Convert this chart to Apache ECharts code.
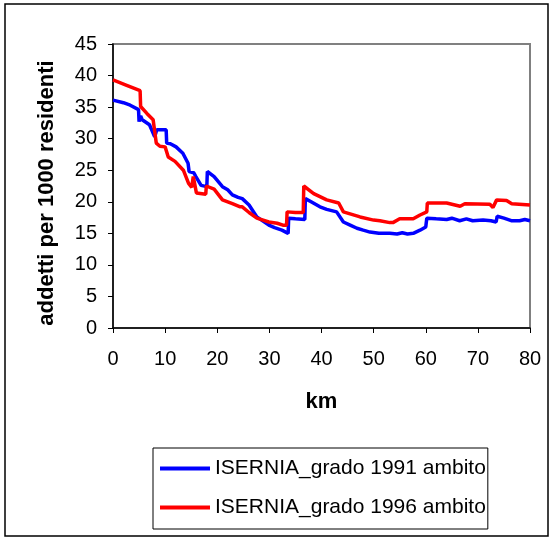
<!DOCTYPE html>
<html>
<head>
<meta charset="utf-8">
<script src="https://cdn.jsdelivr.net/npm/echarts@6/dist/echarts.min.js"></script>
<style>
html,body{margin:0;padding:0;background:#fff;}
#c{width:560px;height:538px;}
</style>
</head>
<body>
<div id="c"></div>
<script>
// ---- data ----
var seriesNames = ['ISERNIA_grado 1991 ambito', 'ISERNIA_grado 1996 ambito'];
var xTitle = 'km';
var yTitle = 'addetti per 1000 residenti';

var kmBlue = [0,2,3.3,4.9,5.0,5.3,5.6,7.0,8.0,8.3,8.4,9.0,10.2,10.3,11.0,12.1,13.4,14.4,14.6,15.5,15.9,16.9,18.0,18.1,19.4,21.0,22.0,22.9,24.0,24.8,26.1,27.6,29.9,31.0,32.4,33.6,33.7,35.0,36.8,36.9,38.0,39.7,41.0,42.9,44.2,45.5,46.8,48.0,49.3,51.0,53.1,54.5,55.5,56.5,57.6,58.9,60.0,60.2,62.0,64.0,65.0,66.5,67.8,69.0,71.0,72.5,73.5,73.7,75.0,76.4,78.0,79.0,80.0];
var valBlue = [36.1,35.7,35.3,34.6,32.7,33.6,33.0,32.2,30.3,30.2,31.4,31.4,31.4,29.3,29.2,28.7,27.7,26.1,24.8,24.6,24.0,22.6,22.4,24.8,24.0,22.4,21.9,21.1,20.7,20.5,19.5,17.6,16.3,15.9,15.5,15.0,17.4,17.3,17.2,20.5,20.0,19.2,18.8,18.4,16.8,16.3,15.8,15.5,15.2,15.0,15.0,14.9,15.1,14.9,15.0,15.5,16.0,17.4,17.3,17.2,17.4,17.0,17.3,17.0,17.1,17.0,16.8,17.7,17.4,17.0,17.0,17.2,17.0];

var kmRed = [0,2.5,5.2,5.3,6.5,7.7,8.3,9.0,10.0,10.6,11.9,13.5,14.5,15.1,15.4,16.0,17.8,17.9,19.4,21.0,22.9,24.4,24.8,26.1,27.6,29.9,31.5,32.6,33.3,33.4,35.0,36.5,36.6,38.5,41.0,43.3,44.2,47.4,50.0,51.2,53.1,53.7,55.0,57.6,58.9,60.2,60.3,64.0,66.6,67.5,72.3,72.9,73.6,75.5,76.5,80.0];
var valRed = [39.3,38.5,37.6,35.1,34.0,33.0,29.3,28.8,28.7,27.1,26.4,25.0,22.9,22.3,24.0,21.4,21.2,22.5,22.0,20.3,19.7,19.2,19.2,18.3,17.4,16.8,16.6,16.3,16.3,18.4,18.3,18.3,22.5,21.3,20.3,19.8,18.4,17.6,17.1,17.0,16.7,16.7,17.3,17.3,17.9,18.4,19.8,19.8,19.3,19.7,19.6,19.1,20.3,20.2,19.7,19.5];

var xTicks = [0,10,20,30,40,50,60,70,80];
var yTicks = [0,5,10,15,20,25,30,35,40,45];

function pairs(xs, ys){ var r=[]; for(var i=0;i<xs.length;i++){ r.push([xs[i], ys[i]]); } return r; }

var FONT = '"Liberation Sans", Arial, sans-serif';
var chart = echarts.init(document.getElementById('c'), null, {renderer:'canvas'});
chart.setOption({
  animation:false,
  backgroundColor:'#ffffff',
  textStyle:{fontFamily:FONT},
  grid:{left:113, right:30, top:44, bottom:210, show:true, borderColor:'#808080', borderWidth:2, containLabel:false},
  xAxis:{
    type:'value', min:xTicks[0], max:xTicks[xTicks.length-1], interval:10,
    name:xTitle, nameLocation:'middle', nameGap:63,
    nameTextStyle:{fontFamily:FONT, fontSize:22, fontWeight:'bold', color:'#000'},
    axisLine:{show:true, onZero:false, lineStyle:{color:'#000', width:1.5}},
    axisTick:{show:true, inside:false, length:5, lineStyle:{color:'#000'}},
    axisLabel:{fontFamily:FONT, fontSize:20, color:'#000', margin:21},
    splitLine:{show:false}
  },
  yAxis:{
    type:'value', min:yTicks[0], max:yTicks[yTicks.length-1], interval:5,
    axisLine:{show:true, onZero:false, lineStyle:{color:'#000', width:1.5}},
    axisTick:{show:true, inside:false, length:5, lineStyle:{color:'#000'}},
    axisLabel:{fontFamily:FONT, fontSize:20, color:'#000', margin:16},
    splitLine:{show:false}
  },
  legend:{
    orient:'vertical', left:153, top:448,
    padding:[10, 2, 11, 7],
    borderColor:'#000', borderWidth:1,
    itemWidth:50, itemHeight:4, itemGap:18,
    icon:'rect',
    textStyle:{fontFamily:FONT, fontSize:21, color:'#000'},
    data:seriesNames
  },
  graphic:[
    {type:'rect', shape:{x:5, y:4, width:543, height:532}, style:{fill:'none', stroke:'#000', lineWidth:1.5}, silent:true, z:-1},
    {type:'text', x:47, y:193, rotation:Math.PI/2,
     style:{text:yTitle, font:'bold 22px ' + FONT, fill:'#000', textAlign:'center', textVerticalAlign:'middle'}}
  ],
  series:[
    {name:seriesNames[0], type:'line', data:pairs(kmBlue, valBlue), showSymbol:false, symbol:'none',
     lineStyle:{color:'#0000ff', width:3.5}, itemStyle:{color:'#0000ff'}},
    {name:seriesNames[1], type:'line', data:pairs(kmRed, valRed), showSymbol:false, symbol:'none',
     lineStyle:{color:'#ff0000', width:3.5}, itemStyle:{color:'#ff0000'}}
  ]
});
</script>
</body>
</html>
